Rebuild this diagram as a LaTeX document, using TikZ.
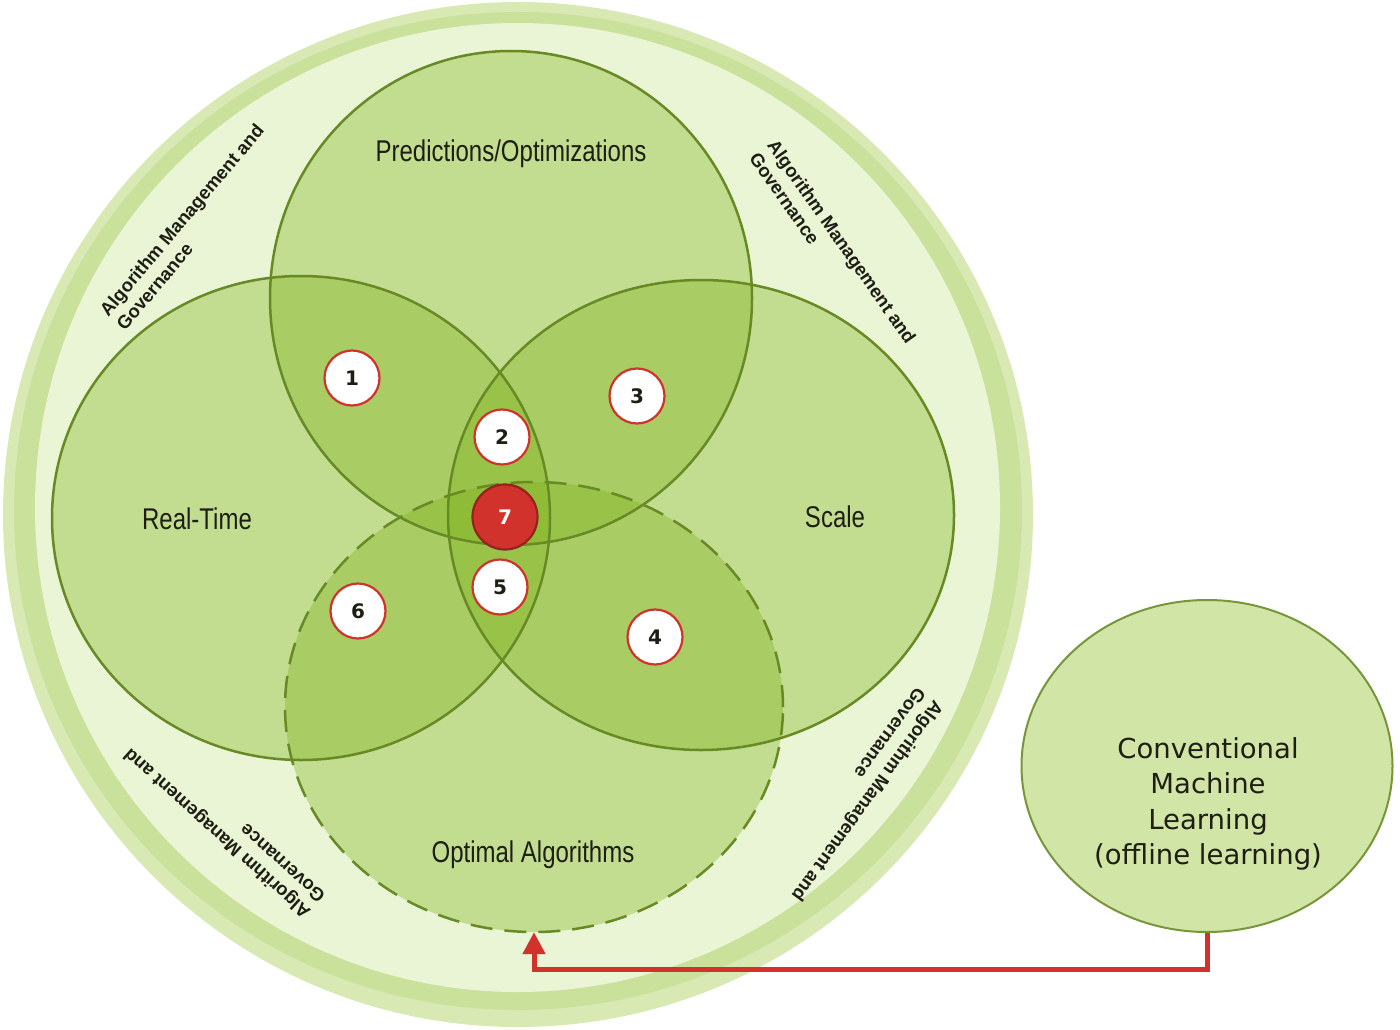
\documentclass[tikz,border=0pt]{standalone}
\usepackage{fontspec}
\setmainfont{Liberation Sans}
\newfontfamily\narrowfont[FakeStretch=0.8]{Liberation Sans}
\newfontfamily\cmlfont{DejaVu Sans}
\usetikzlibrary{shapes.geometric,arrows.meta}
\definecolor{ringlight}{RGB}{216,233,180}
\definecolor{ringdark}{RGB}{202,225,155}
\definecolor{ringfill}{RGB}{234,245,214}
\definecolor{setgreen}{RGB}{128,178,26}
\definecolor{setline}{RGB}{104,138,36}
\definecolor{cmlfill}{RGB}{208,229,166}
\definecolor{markred}{RGB}{210,50,44}
\definecolor{inktext}{RGB}{30,30,20}
\begin{document}
\begin{tikzpicture}[x=1pt, y=-1pt,
	ring node/.style={ellipse, inner sep=0pt},
	set fill/.style={ellipse, inner sep=0pt, fill=setgreen, fill opacity=0.37},
	set border/.style={ellipse, inner sep=0pt, draw=setline, line width=2.5pt},
	dash line/.style={dash pattern=on 22pt off 12pt},
	set label/.style={inner sep=0pt, anchor=base, text=inktext, font=\narrowfont\fontsize{30}{32}\selectfont},
	gov text/.style={inner sep=0pt, align=left, text=inktext, font=\bfseries\fontsize{18.5}{22}\selectfont},
	num node/.style={circle, minimum size=55pt, inner sep=0pt, fill=white, draw=markred, line width=2.2pt, text=inktext, font=\cmlfont\bfseries\fontsize{20}{20}\selectfont},
	hot node/.style={minimum size=65pt, fill=markred, draw=markred!70!black, text=white},
	cml node/.style={ellipse, inner sep=0pt, minimum width=371pt, minimum height=332pt, fill=cmlfill, draw=setline!90, line width=2pt},
	feed arrow/.style={draw=markred, line width=5pt, -{Triangle[width=22pt,length=22pt]}}]
	\useasboundingbox (0,0) rectangle (1400,1030);

	\node[ring node, fill=ringlight, minimum width=1030pt, minimum height=1025pt] (outer) at (518,514.5) {};
	\node[ring node, fill=ringdark, minimum width=1008pt, minimum height=998pt] (band) at (518,511) {};
	\node[ring node, fill=ringfill, minimum width=965pt, minimum height=969pt] (inner) at (517.5,507.5) {};

	\foreach \nm/\cx/\cy/\rx/\ry in {pred/511/298/241/247, rt/301/518/249/242, scale/701/515/253/235, opt/534/707/249/225}
		\node[set fill, minimum width=2*\rx pt, minimum height=2*\ry pt] (\nm) at (\cx,\cy) {};
	\foreach \nm/\rx/\ry/\pat in {pred/241/247/solid, rt/249/242/solid, scale/253/235/solid, opt/249/225/dash line}
		\node[set border, \pat, minimum width=2*\rx pt, minimum height=2*\ry pt] (\nm line) at (\nm) {};

	\node[set label] (predlabel) at (511,161) {Predictions/Optimizations};
	\node[set label] (rtlabel) at (197,529) {Real-Time};
	\node[set label] (scalelabel) at (835,527) {Scale};
	\node[set label] (optlabel) at (533,862) {Optimal Algorithms};

	\node[gov text, rotate=50] (govtl) at (190,227) {Algorithm Management and\\Governance};
	\node[gov text, rotate=-55] (govtr) at (833,248) {Algorithm Management and\\Governance};
	\node[gov text, rotate=138] (govbl) at (224,826) {Algorithm Management and\\Governance};
	\node[gov text, rotate=-126] (govbr) at (859,795) {Algorithm Management and\\Governance};

	\foreach \n/\px/\py in {1/352/378, 2/502/437, 3/637/396, 4/655/637, 5/500/587, 6/358/611}
		\node[num node] (n\n) at (\px,\py) {\n};
	\node[num node, hot node] (n7) at (505,517) {7};

	\node[cml node] (cml) at (1207,766) {};
	\node[align=center, inner sep=0pt, text=inktext, font=\cmlfont\fontsize{27.5}{35.5}\selectfont] (cmltext) at (1208,804) {Conventional\\Machine\\Learning\\(offline learning)};

	\draw[feed arrow] (cml.south) -- ++(0,36) -| (opt.south);
\end{tikzpicture}
\end{document}
